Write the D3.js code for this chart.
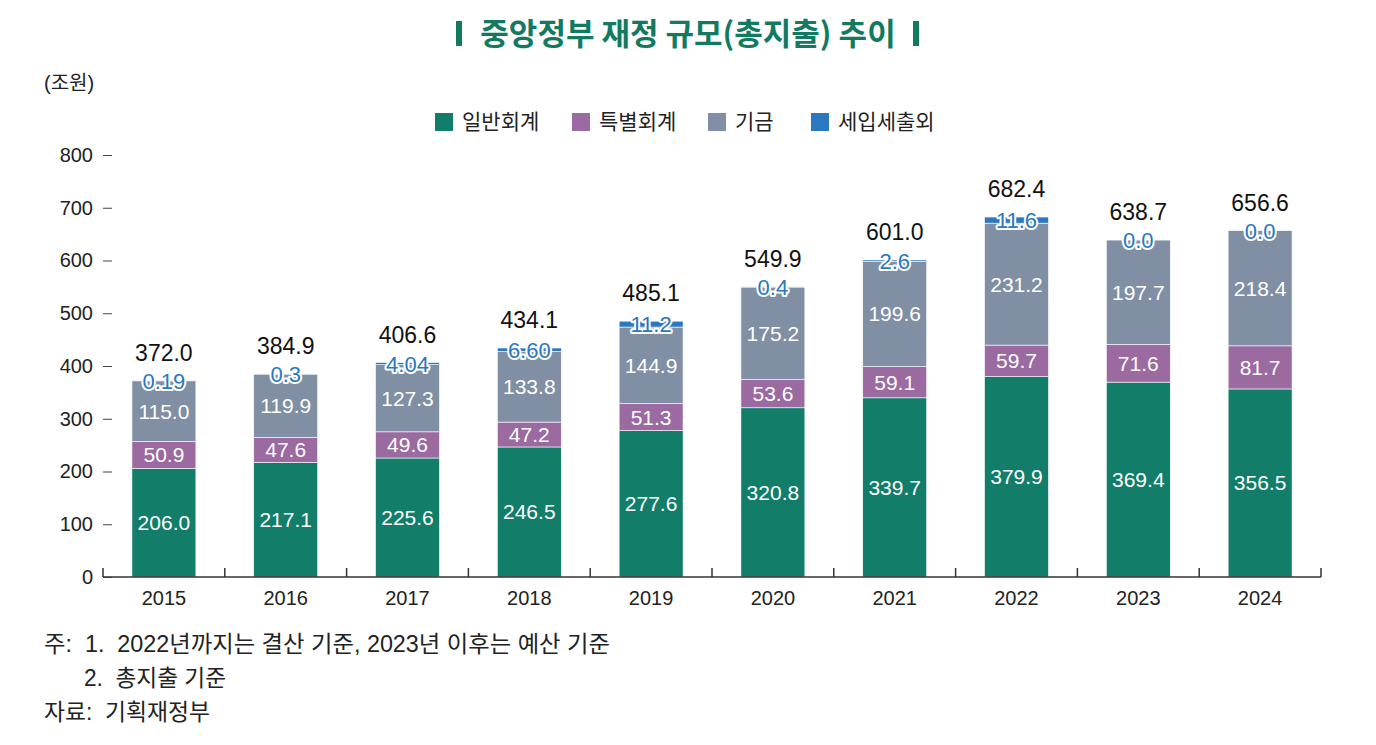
<!DOCTYPE html>
<html>
<head>
<meta charset="utf-8">
<script src="https://cdn.jsdelivr.net/npm/d3@7"></script>
<style>
  body { margin: 0; background: #fff; }
  svg text { font-family: "Liberation Sans", "Noto Sans CJK KR", sans-serif; }
</style>
</head>
<body>
<div id="chart"></div>
<script>
const years = ['2015', '2016', '2017', '2018', '2019', '2020', '2021', '2022', '2023', '2024'];
const general = [206.0, 217.1, 225.6, 246.5, 277.6, 320.8, 339.7, 379.9, 369.4, 356.5];
const special = [50.9, 47.6, 49.6, 47.2, 51.3, 53.6, 59.1, 59.7, 71.6, 81.7];
const fund = [115.0, 119.9, 127.3, 133.8, 144.9, 175.2, 199.6, 231.2, 197.7, 218.4];
const extra = [0.19, 0.3, 4.04, 6.60, 11.2, 0.4, 2.6, 11.6, 0.0, 0.0];
const extraLabels = ['0.19', '0.3', '4.04', '6.60', '11.2', '0.4', '2.6', '11.6', '0.0', '0.0'];
const totals = [372.0, 384.9, 406.6, 434.1, 485.1, 549.9, 601.0, 682.4, 638.7, 656.6];
const seriesNames = ['일반회계', '특별회계', '기금', '세입세출외'];
const colors = ['#127d69', '#9a6aa0', '#808fa3', '#2a78c0'];
const yTicks = [0, 100, 200, 300, 400, 500, 600, 700, 800];
const notes = ['주:  1.  2022년까지는 결산 기준, 2023년 이후는 예산 기준', '2.  총지출 기준', '자료:  기획재정부'];

const W = 1376, H = 745;
const m = { left: 103, right: 1321, top: 155, bottom: 577 };

const svg = d3.select('#chart').append('svg')
  .attr('width', W)
  .attr('height', H);

// title
const titleG = svg.append('g');
titleG.append('text')
  .attr('x', 688).attr('y', 45)
  .attr('text-anchor', 'middle')
  .style('font-family', '"Noto Sans CJK KR", sans-serif')
  .style('font-weight', 700)
  .style('font-size', '31px')
  .attr('fill', '#137a62')
  .text('중앙정부 재정 규모(총지출) 추이');
titleG.append('rect').attr('x', 456).attr('y', 21).attr('width', 6).attr('height', 25).attr('fill', '#137a62');
titleG.append('rect').attr('x', 913).attr('y', 21).attr('width', 6).attr('height', 25).attr('fill', '#137a62');

// unit
svg.append('text')
  .attr('x', 44).attr('y', 90)
  .style('font-size', '20px')
  .attr('fill', '#222')
  .text('(조원)');

// legend
const legendX = [435, 572, 708, 811];
const legend = svg.append('g').selectAll('g')
  .data(seriesNames)
  .enter().append('g')
  .attr('transform', (d, i) => `translate(${legendX[i]},113)`);
legend.append('rect')
  .attr('width', 18).attr('height', 18)
  .attr('fill', (d, i) => colors[i]);
legend.append('text')
  .attr('x', 27).attr('y', 16)
  .style('font-size', '21px')
  .attr('fill', '#222')
  .text((d) => d);

// scales
const x = d3.scaleBand()
  .domain(years)
  .range([m.left, m.right])
  .paddingInner(0.475)
  .paddingOuter(0.2375);

const y = d3.scaleLinear()
  .domain([0, 800])
  .range([m.bottom, m.top]);

// y axis
const yAxis = svg.append('g')
  .attr('transform', `translate(${m.left + 9},0)`)
  .call(d3.axisLeft(y).tickValues(yTicks).tickSize(9).tickPadding(10));
yAxis.select('.domain').remove();
yAxis.selectAll('line').attr('stroke', '#444');
yAxis.selectAll('text')
  .style('font-size', '20px')
  .style('font-family', '"Liberation Sans", sans-serif')
  .attr('fill', '#222');

// stacked data
const rows = years.map((yr, i) => ({
  year: yr,
  general: general[i],
  special: special[i],
  fund: fund[i],
  extra: extra[i]
}));
const keys = ['general', 'special', 'fund', 'extra'];
const stacked = d3.stack().keys(keys)(rows);

const layers = svg.append('g').selectAll('g')
  .data(stacked)
  .enter().append('g')
  .attr('fill', (d, i) => colors[i]);

layers.selectAll('rect')
  .data((d) => d)
  .enter().append('rect')
  .attr('x', (d) => x(d.data.year))
  .attr('width', x.bandwidth())
  .attr('y', (d) => y(d[1]))
  .attr('height', (d) => y(d[0]) - y(d[1]))
  .attr('stroke', '#fff')
  .attr('stroke-width', 0.6);

// x axis
const step = x.step();
const xAxis = svg.append('g');
xAxis.append('line')
  .attr('x1', m.left).attr('x2', m.right)
  .attr('y1', m.bottom).attr('y2', m.bottom)
  .attr('stroke', '#333').attr('stroke-width', 1.5);
xAxis.selectAll('.tick')
  .data(d3.range(years.length + 1))
  .enter().append('line')
  .attr('x1', (i) => m.left + i * step)
  .attr('x2', (i) => m.left + i * step)
  .attr('y1', m.bottom).attr('y2', m.bottom - 9)
  .attr('stroke', '#333').attr('stroke-width', 1.5);
xAxis.selectAll('text')
  .data(years)
  .enter().append('text')
  .attr('x', (d) => x(d) + x.bandwidth() / 2)
  .attr('y', m.bottom + 28)
  .attr('text-anchor', 'middle')
  .style('font-size', '20px')
  .attr('fill', '#222')
  .text((d) => d);

// segment labels (white)
const inner = svg.append('g');
stacked.slice(0, 3).forEach((layer) => {
  inner.selectAll(null)
    .data(layer)
    .enter().append('text')
    .attr('x', (d) => x(d.data.year) + x.bandwidth() / 2)
    .attr('y', (d) => (y(d[0]) + y(d[1])) / 2 + 7.5)
    .attr('text-anchor', 'middle')
    .style('font-size', '21px')
    .attr('fill', '#fff')
    .text((d) => (d[1] - d[0]).toFixed(1));
});

// extra labels (blue with white halo)
inner.selectAll(null)
  .data(stacked[3])
  .enter().append('text')
  .attr('x', (d) => x(d.data.year) + x.bandwidth() / 2)
  .attr('y', (d) => (y(d[0]) + y(d[1])) / 2 + 8)
  .attr('text-anchor', 'middle')
  .style('font-size', '22px')
  .style('paint-order', 'stroke')
  .attr('stroke', '#fff')
  .attr('stroke-width', 4)
  .attr('stroke-linejoin', 'round')
  .attr('fill', colors[3])
  .text((d, i) => extraLabels[i]);

// totals
svg.append('g').selectAll('text')
  .data(totals)
  .enter().append('text')
  .attr('x', (d, i) => x(years[i]) + x.bandwidth() / 2)
  .attr('y', (d, i) => y(stacked[3][i][1]) - 20)
  .attr('text-anchor', 'middle')
  .style('font-size', '23px')
  .attr('fill', '#111')
  .text((d) => d.toFixed(1));

// notes
const noteX = [44, 84, 44];
const noteY = [652, 686, 720];
const noteW = [566, 142, 166];
svg.append('g').selectAll('text')
  .data(notes)
  .enter().append('text')
  .attr('x', (d, i) => noteX[i])
  .attr('y', (d, i) => noteY[i])
  .attr('xml:space', 'preserve')
  .attr('textLength', (d, i) => noteW[i])
  .attr('lengthAdjust', 'spacingAndGlyphs')
  .style('white-space', 'pre')
  .style('font-size', '23px')
  .attr('fill', '#222')
  .text((d) => d);
</script>
</body>
</html>
